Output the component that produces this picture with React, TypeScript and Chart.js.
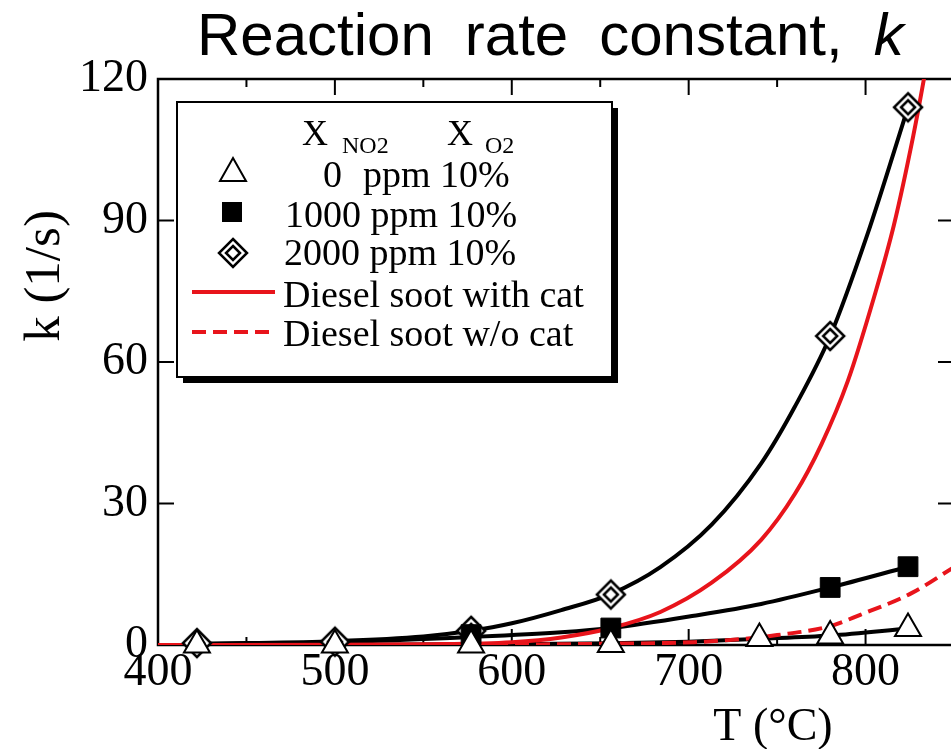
import React, { useEffect, useRef } from 'react';
import { Chart, registerables } from 'chart.js';

Chart.register(...registerables);

// ---- measured points (markers) ----
const T_0PPM = [422, 500, 577, 656, 740, 780, 824];
const K_0PPM = [0, 0, 0, 0.1, 1.4, 1.9, 3.5];
const T_1000PPM = [577, 656, 780, 824];
const K_1000PPM = [2.2, 3.6, 12.2, 16.6];
const T_2000PPM = [422, 500, 577, 656, 780, 824];
const K_2000PPM = [0.4, 0.7, 3.0, 10.7, 65.5, 114];

// ---- fitted curves ----
const FIT_T_0PPM = [422, 500, 577, 656, 700, 740, 780, 824];
const FIT_K_0PPM = [0, 0.05, 0.15, 0.35, 0.7, 1.3, 2.0, 3.5];
const FIT_T_1000PPM = [422, 500, 577, 628, 656, 703, 741, 780, 824];
const FIT_K_1000PPM = [0.2, 0.6, 1.7, 2.7, 3.6, 6.2, 8.7, 12.2, 16.6];
const FIT_T_2000PPM = [422, 450, 500, 550, 577, 600, 628, 656, 684, 713, 741, 760, 780, 801, 824];
const FIT_K_2000PPM = [0.3, 0.4, 0.8, 1.8, 3.0, 4.6, 7.4, 10.8, 16.5, 25.5, 38.5, 50.5, 65.5, 87, 114];
const CAT_T = [400, 500, 550, 600, 628, 656, 684, 713, 741, 760, 775, 790, 805, 816, 827, 833, 838];
const CAT_K = [0, 0.03, 0.15, 0.6, 1.6, 3.6, 7.0, 13.2, 22.3, 32, 42.5, 56, 74, 89, 108, 120, 131];
const NOCAT_T = [400, 500, 600, 650, 703, 731, 750, 779, 797, 826, 850];
const NOCAT_K = [0, 0, 0.08, 0.25, 0.6, 1.3, 2.1, 3.9, 6.4, 11, 16.5];

// ---- axes / text ----
const X_MIN = 400;
const X_MAX = 850;
const X_STEP = 50;
const X_LABELS = ['400', '500', '600', '700', '800'];
const Y_MIN = 0;
const Y_MAX = 120;
const Y_STEP = 30;
const TITLE_WORDS = ['Reaction', 'rate', 'constant,'];
const TITLE_ITALIC = 'k';
const Y_TITLE = 'k (1/s)';
const X_TITLE = 'T (°C)';
const LEGEND_HEAD = ['X', 'NO2', 'X', 'O2'];
const LEGEND_ROWS = ['0  ppm 10%', '1000 ppm 10%', '2000 ppm 10%', 'Diesel soot with cat', 'Diesel soot w/o cat'];

const SERIF = '"Liberation Serif", "Times New Roman", serif';
const SANS = '"Liberation Sans", Arial, sans-serif';

const pts = (xs: number[], ys: number[]) => xs.map((x, i) => ({ x, y: ys[i] }));

function makeDiamond(): HTMLCanvasElement {
  const c = document.createElement('canvas');
  c.width = 34;
  c.height = 34;
  const g = c.getContext('2d')!;
  const d = (r: number) => {
    g.beginPath();
    g.moveTo(17, 17 - r);
    g.lineTo(17 + r, 17);
    g.lineTo(17, 17 + r);
    g.lineTo(17 - r, 17);
    g.closePath();
  };
  g.fillStyle = '#fff';
  g.strokeStyle = '#000';
  g.lineWidth = 2.5;
  d(14);
  g.fill();
  g.stroke();
  d(7);
  g.stroke();
  return c;
}

export default function App() {
  const ref = useRef<HTMLCanvasElement | null>(null);

  useEffect(() => {
    if (!ref.current) return;
    const diamond = makeDiamond();

    const framePlugin = {
      id: 'frame',
      beforeDatasetsDraw(chart: any) {
        const { ctx, chartArea: a } = chart;
        const x = chart.scales.x;
        const y = chart.scales.y;
        ctx.save();
        ctx.strokeStyle = '#000';
        ctx.lineWidth = 2.5;
        ctx.strokeRect(a.left, a.top, a.right - a.left, a.bottom - a.top);
        ctx.lineWidth = 2;
        const ln = (x1: number, y1: number, x2: number, y2: number) => {
          ctx.beginPath();
          ctx.moveTo(x1, y1);
          ctx.lineTo(x2, y2);
          ctx.stroke();
        };
        y.ticks.forEach((t: any) => {
          const py = y.getPixelForValue(t.value);
          ln(a.left, py, a.left + 16, py);
          ln(a.right, py, a.right - 16, py);
        });
        x.ticks.forEach((t: any) => {
          const px = x.getPixelForValue(t.value);
          const len = t.value % 100 === 0 ? 16 : 8;
          ln(px, a.bottom, px, a.bottom - len);
          ln(px, a.top, px, a.top + len);
        });
        ctx.restore();
      },
      afterDraw(chart: any) {
        const { ctx } = chart;
        ctx.save();
        ctx.fillStyle = '#000';
        // title: words laid out with a wide word gap
        ctx.font = `60px ${SANS}`;
        ctx.textBaseline = 'alphabetic';
        ctx.textAlign = 'left';
        const gap = 31;
        let cx = 197;
        TITLE_WORDS.forEach((w) => {
          ctx.fillText(w, cx, 55);
          cx += ctx.measureText(w).width + gap;
        });
        ctx.font = `italic 60px ${SANS}`;
        ctx.fillText(TITLE_ITALIC, cx, 55);

        // y title
        ctx.save();
        ctx.translate(46, 276);
        ctx.rotate(-Math.PI / 2);
        ctx.font = `51px ${SERIF}`;
        ctx.textAlign = 'center';
        ctx.textBaseline = 'middle';
        ctx.fillText(Y_TITLE, 0, 0);
        ctx.restore();

        // x title
        ctx.font = `46px ${SERIF}`;
        ctx.textAlign = 'center';
        ctx.fillText(X_TITLE, 773, 740);

        // legend box with shadow
        const L = 177, T = 102, R = 612, B = 377;
        ctx.fillStyle = '#000';
        ctx.fillRect(L + 6, T + 6, R - L, B - T);
        ctx.fillStyle = '#fff';
        ctx.fillRect(L, T, R - L, B - T);
        ctx.strokeStyle = '#000';
        ctx.lineWidth = 2;
        ctx.strokeRect(L, T, R - L, B - T);

        ctx.fillStyle = '#000';
        ctx.textAlign = 'left';
        ctx.textBaseline = 'alphabetic';
        ctx.font = `36px ${SERIF}`;
        ctx.fillText(LEGEND_HEAD[0], 302, 145);
        ctx.fillText(LEGEND_HEAD[2], 447, 145);
        ctx.font = `24px ${SERIF}`;
        ctx.fillText(LEGEND_HEAD[1], 342, 153);
        ctx.fillText(LEGEND_HEAD[3], 485, 153);

        ctx.font = `38px ${SERIF}`;
        const baselines = [187, 227, 265, 307, 346];
        const row0 = LEGEND_ROWS[0].split('  ');
        ctx.fillText(row0[0], 323, baselines[0]);
        ctx.fillText(row0[1], 363, baselines[0]);
        ctx.fillText(LEGEND_ROWS[1], 285, baselines[1]);
        ctx.fillText(LEGEND_ROWS[2], 284, baselines[2]);
        ctx.fillText(LEGEND_ROWS[3], 283, baselines[3]);
        ctx.fillText(LEGEND_ROWS[4], 283, baselines[4]);

        // legend markers
        ctx.lineWidth = 2;
        ctx.strokeStyle = '#000';
        ctx.fillStyle = '#fff';
        ctx.beginPath();
        ctx.moveTo(233, 158);
        ctx.lineTo(246, 181);
        ctx.lineTo(220, 181);
        ctx.closePath();
        ctx.fill();
        ctx.stroke();
        ctx.fillStyle = '#000';
        ctx.fillRect(222, 202, 20, 20);
        ctx.drawImage(diamond, 233 - 17, 253 - 17);

        ctx.strokeStyle = '#e8141b';
        ctx.lineWidth = 4;
        ctx.beginPath();
        ctx.moveTo(192, 292);
        ctx.lineTo(275, 292);
        ctx.stroke();
        ctx.setLineDash([14, 7]);
        ctx.beginPath();
        ctx.moveTo(192, 332);
        ctx.lineTo(275, 332);
        ctx.stroke();
        ctx.setLineDash([]);
        ctx.restore();
      },
    };

    const blackLine = (data: any[]) => ({
      data,
      borderColor: '#000',
      borderWidth: 4,
      pointRadius: 0,
      cubicInterpolationMode: 'monotone' as const,
      fill: false,
    });

    const chart = new Chart(ref.current, {
      type: 'line',
      data: {
        datasets: [
          {
            label: '0 ppm 10%',
            data: pts(T_0PPM, K_0PPM),
            showLine: false,
            pointStyle: 'triangle',
            pointRadius: 15,
            pointBackgroundColor: '#fff',
            pointBorderColor: '#000',
            pointBorderWidth: 2,
            clip: false,
          } as any,
          {
            label: '1000 ppm 10%',
            data: pts(T_1000PPM, K_1000PPM),
            showLine: false,
            pointStyle: 'rect',
            pointRadius: 14,
            pointBackgroundColor: '#000',
            pointBorderColor: '#000',
            pointBorderWidth: 1,
            clip: false,
          },
          {
            label: '2000 ppm 10%',
            data: pts(T_2000PPM, K_2000PPM),
            showLine: false,
            pointStyle: diamond,
            pointRadius: 15,
            clip: false,
          },
          {
            label: 'Diesel soot w/o cat',
            data: pts(NOCAT_T, NOCAT_K),
            borderColor: '#e8141b',
            borderWidth: 4,
            borderDash: [14, 7],
            pointRadius: 0,
            cubicInterpolationMode: 'monotone',
          },
          {
            label: 'Diesel soot with cat',
            data: pts(CAT_T, CAT_K),
            borderColor: '#e8141b',
            borderWidth: 4,
            pointRadius: 0,
            cubicInterpolationMode: 'monotone',
          },
          { label: 'fit 2000', ...blackLine(pts(FIT_T_2000PPM, FIT_K_2000PPM)) },
          { label: 'fit 1000', ...blackLine(pts(FIT_T_1000PPM, FIT_K_1000PPM)) },
          { label: 'fit 0', ...blackLine(pts(FIT_T_0PPM, FIT_K_0PPM)) },
        ],
      },
      options: {
        animation: false,
        responsive: false,
        maintainAspectRatio: false,
        layout: { autoPadding: false, padding: { left: 0, top: 79, right: 6, bottom: 44 } },
        plugins: { legend: { display: false }, tooltip: { enabled: false }, title: { display: false } },
        scales: {
          x: {
            type: 'linear',
            min: X_MIN,
            max: X_MAX,
            grid: { display: false, drawTicks: false },
            border: { display: false },
            ticks: {
              stepSize: X_STEP,
              autoSkip: false,
              maxRotation: 0,
              padding: 0,
              color: '#000',
              font: { family: SERIF, size: 46 },
              callback: (v: any) => {
                const s = String(v);
                return X_LABELS.includes(s) ? s : '';
              },
            },
            afterFit: (s: any) => {
              s.height = 60;
              s.paddingLeft = 0;
              s.paddingRight = 0;
            },
          },
          y: {
            type: 'linear',
            min: Y_MIN,
            max: Y_MAX,
            grid: { display: false, drawTicks: false },
            border: { display: false },
            ticks: {
              stepSize: Y_STEP,
              padding: 10,
              color: '#000',
              font: { family: SERIF, size: 46 },
            },
            afterFit: (s: any) => {
              s.width = 158;
              s.paddingTop = 0;
              s.paddingBottom = 0;
            },
          },
        },
      },
      plugins: [framePlugin],
    });
    return () => chart.destroy();
  }, []);

  return (
    <div
      style={{
        position: 'fixed',
        left: 0,
        top: 0,
        width: 951,
        height: 749,
        overflow: 'hidden',
        background: '#fff',
      }}
    >
      <canvas ref={ref} width={960} height={749} style={{ display: 'block', width: 960, height: 749 }} />
    </div>
  );
}
